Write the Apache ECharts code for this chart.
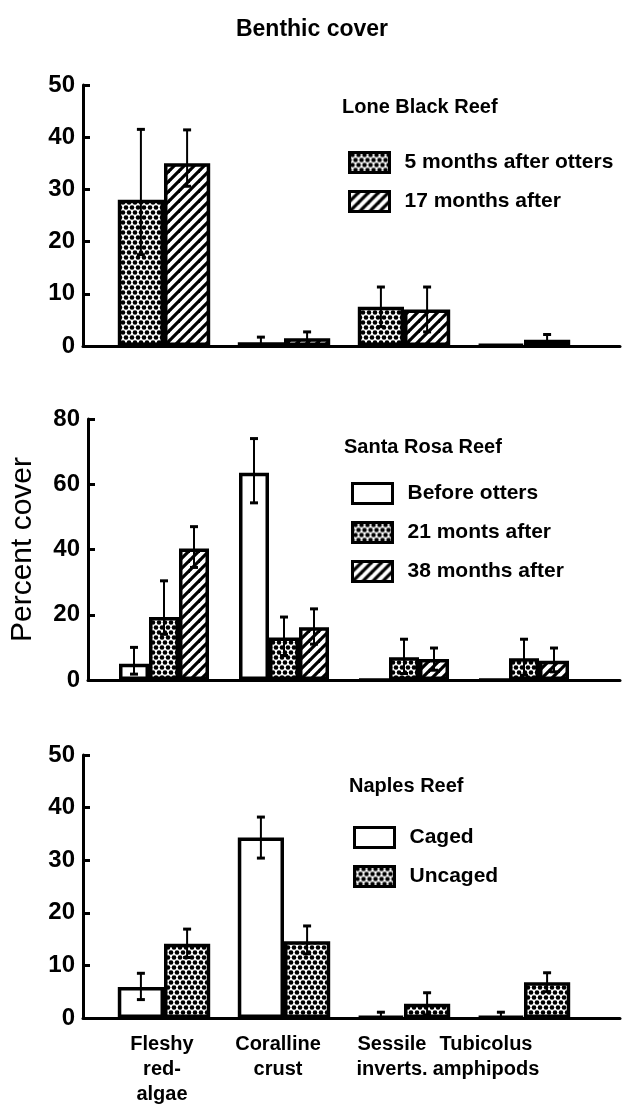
<!DOCTYPE html>
<html>
<head>
<meta charset="utf-8">
<title>Benthic cover</title>
<script src="https://cdn.jsdelivr.net/npm/echarts@6/dist/echarts.min.js"></script>
<style>
  html, body { margin: 0; padding: 0; background: #fff; }
  #chart { width: 624px; height: 1117px; }
</style>
</head>
<body>
<div id="chart"></div>
<script>
// ---- data ----
const categories = ['Fleshy\nred-\nalgae', 'Coralline\ncrust', 'Sessile\ninverts.', 'Tubicolus\namphipods'];

// Lone Black Reef
const lbNames = ['5 months after otters', '17 months after'];
const lb5 = [28, 0.7, 7.5, 0.3];
const lb5Low = [17.5, 0, 3.7, null];
const lb5High = [41.5, 1.7, 11.3, null];
const lb17 = [35, 1.5, 7.0, 1.2];
const lb17Low = [30.6, 0.3, 2.7, 0.2];
const lb17High = [41.4, 2.7, 11.3, 2.2];
const lbTicks = [0, 50, 10];

// Santa Rosa Reef
const srNames = ['Before otters', '21 monts after', '38 months after'];
const srBefore = [5, 63.5, 0, 0];
const srBeforeLow = [1.8, 54.3, null, null];
const srBeforeHigh = [10, 74, null, null];
const sr21 = [19.3, 13, 7, 6.7];
const sr21Low = [14, 7.5, 2, 1.5];
const sr21High = [30.4, 19.3, 12.5, 12.5];
const sr38 = [40.3, 16.2, 6.4, 5.9];
const sr38Low = [34.5, 11, 3, 2.5];
const sr38High = [47, 21.8, 9.8, 9.8];
const srTicks = [0, 80, 20];

// Naples Reef
const npNames = ['Caged', 'Uncaged'];
const npCaged = [5.9, 34.3, 0.3, 0.3];
const npCagedLow = [3.5, 30.4, 0, 0];
const npCagedHigh = [8.5, 38.2, 1.1, 1.1];
const npUncaged = [14.1, 14.6, 2.7, 6.8];
const npUncagedLow = [11.5, 12.2, 0.6, 5];
const npUncagedHigh = [16.9, 17.5, 4.8, 8.6];
const npTicks = [0, 50, 10];

// ---- fills ----
function dotFill() {
  const c = document.createElement('canvas');
  c.width = 6; c.height = 10;
  const g = c.getContext('2d');
  g.fillStyle = '#fff'; g.fillRect(0, 0, 6, 10);
  g.fillStyle = '#000';
  [[3, 2.5], [0, 7.5], [6, 7.5]].forEach(([x, y]) => {
    g.beginPath(); g.arc(x, y, 2.3, 0, Math.PI * 2); g.fill();
  });
  return { image: c, repeat: 'repeat' };
}
function hatchFill() {
  const s = 10;
  const c = document.createElement('canvas');
  c.width = s; c.height = s;
  const g = c.getContext('2d');
  g.fillStyle = '#fff'; g.fillRect(0, 0, s, s);
  g.strokeStyle = '#000'; g.lineWidth = 3.2;
  [-s, 0, s].forEach(dx => {
    g.beginPath(); g.moveTo(dx - 1, s + 1); g.lineTo(dx + s + 1, -1); g.stroke();
  });
  return { image: c, repeat: 'repeat' };
}
const DOTS = dotFill();
const HATCH = hatchFill();
const PLAIN = '#fff';

const sans = "'Liberation Sans', Arial, sans-serif";

// ---- layout of the three panels ----
const panels = [
  { top: 85, bottom: 771, ticks: lbTicks, gap: 0.23,
    series: [[lbNames[0], lb5, lb5Low, lb5High, DOTS], [lbNames[1], lb17, lb17Low, lb17High, HATCH]] },
  { top: 419, bottom: 437, ticks: srTicks, gap: 0.25, yName: 'Percent cover',
    series: [[srNames[0], srBefore, srBeforeLow, srBeforeHigh, PLAIN], [srNames[1], sr21, sr21Low, sr21High, DOTS], [srNames[2], sr38, sr38Low, sr38High, HATCH]] },
  { top: 755, bottom: 99, ticks: npTicks, gap: 0.23, showCats: true,
    series: [[npNames[0], npCaged, npCagedLow, npCagedHigh, PLAIN], [npNames[1], npUncaged, npUncagedLow, npUncagedHigh, DOTS]] }
];

const grid = [], xAxis = [], yAxis = [], series = [];

// leftward shift of each category label relative to its bar group
const labelShift = [2, 6, 12, 38];

function errorBars(lo, hi, nBars, idx, gap, axisIdx) {
  const data = [];
  lo.forEach((l, i) => { if (l != null && hi[i] != null) data.push([i, l, hi[i]]); });
  return {
    type: 'custom', xAxisIndex: axisIdx, yAxisIndex: axisIdx, z: 5, silent: true,
    data, encode: { x: 0, y: [1, 2] },
    renderItem(params, api) {
      const cat = api.value(0);
      const pLo = api.coord([cat, api.value(1)]);
      const pHi = api.coord([cat, api.value(2)]);
      const band = api.size([1, 0])[0];
      const groupW = band * (1 - gap);
      const bw = groupW / nBars;
      const x = pLo[0] - groupW / 2 + (idx + 0.5) * bw;
      const hw = 4;
      return {
        type: 'group',
        children: [
          { type: 'line', shape: { x1: x, y1: pLo[1], x2: x, y2: pHi[1] }, style: { stroke: '#000', lineWidth: 2 } },
          { type: 'line', shape: { x1: x - hw, y1: pHi[1], x2: x + hw, y2: pHi[1] }, style: { stroke: '#000', lineWidth: 3 } },
          { type: 'line', shape: { x1: x - hw, y1: pLo[1], x2: x + hw, y2: pLo[1] }, style: { stroke: '#000', lineWidth: 3 } }
        ]
      };
    }
  };
}

panels.forEach((p, k) => {
  const frame = k * 2, bars = k * 2 + 1;
  // frame grid carries the visible axes
  grid.push({ left: 83, right: 4, top: p.top, bottom: p.bottom });
  // bar grid holds the grouped bars
  grid.push({ left: 104, right: 40, top: p.top, bottom: p.bottom });

  xAxis.push({
    gridIndex: frame, type: 'value', min: 0, max: 1,
    axisLine: { show: true, lineStyle: { color: '#000', width: 3 } },
    axisTick: { show: false }, axisLabel: { show: false }, splitLine: { show: false }
  });
  xAxis.push({
    gridIndex: bars, type: 'category',
    data: categories.map((c, i) => ({ value: c, textStyle: { padding: [0, labelShift[i] * 2, 0, 0] } })),
    axisLine: { show: false }, axisTick: { show: false }, splitLine: { show: false },
    axisLabel: {
      show: !!p.showCats, interval: 0, margin: 14, color: '#000',
      fontFamily: sans, fontWeight: 'bold', fontSize: 20, lineHeight: 25
    }
  });

  yAxis.push({
    gridIndex: frame, type: 'value', min: p.ticks[0], max: p.ticks[1], interval: p.ticks[2],
    name: p.yName || '', nameLocation: 'middle', nameGap: 50,
    nameTextStyle: { fontFamily: sans, fontSize: 30, color: '#000' },
    axisLine: { show: true, lineStyle: { color: '#000', width: 3 } },
    axisTick: { show: true, inside: true, length: 7, lineStyle: { color: '#000', width: 3 } },
    axisLabel: { margin: 8, color: '#000', fontFamily: sans, fontWeight: 'bold', fontSize: 24 },
    splitLine: { show: false }
  });
  yAxis.push({
    gridIndex: bars, type: 'value', min: p.ticks[0], max: p.ticks[1], show: false
  });

  const n = p.series.length;
  p.series.forEach(([name, vals, lo, hi, fill], i) => {
    series.push({
      type: 'bar', name, xAxisIndex: bars, yAxisIndex: bars, data: vals,
      barGap: '0%', barCategoryGap: (p.gap * 100) + '%',
      itemStyle: { color: fill, borderColor: '#000', borderWidth: 3.5 },
      emphasis: { disabled: true }, z: 2
    });
    series.push(errorBars(lo, hi, n, i, p.gap, bars));
  });
});

const legendText = { fontFamily: sans, fontWeight: 'bold', fontSize: 21, color: '#000', padding: [0, 0, 0, 10] };
const legendBase = {
  orient: 'vertical', icon: 'rect', itemWidth: 40, itemHeight: 20, itemGap: 16,
  selectedMode: false, textStyle: legendText,
  itemStyle: { borderColor: '#000', borderWidth: 3 }
};

const titleFont = { fontFamily: sans, fontWeight: 'bold', fontSize: 20, color: '#000' };

const option = {
  animation: false,
  backgroundColor: '#fff',
  title: [
    { text: 'Benthic cover', left: 'center', top: 13, textStyle: Object.assign({}, titleFont, { fontSize: 23 }) },
    { text: 'Lone Black Reef', left: 337, top: 92, textStyle: titleFont },
    { text: 'Santa Rosa Reef', left: 339, top: 432, textStyle: titleFont },
    { text: 'Naples Reef', left: 344, top: 771, textStyle: titleFont }
  ],
  legend: [
    Object.assign({}, legendBase, { data: lbNames, left: 343, top: 146 }),
    Object.assign({}, legendBase, { data: srNames, left: 346, top: 477 }),
    Object.assign({}, legendBase, { data: npNames, left: 348, top: 821 })
  ],
  grid, xAxis, yAxis, series
};

const chart = echarts.init(document.getElementById('chart'), null, { renderer: 'canvas' });
chart.setOption(option);
</script>
</body>
</html>
